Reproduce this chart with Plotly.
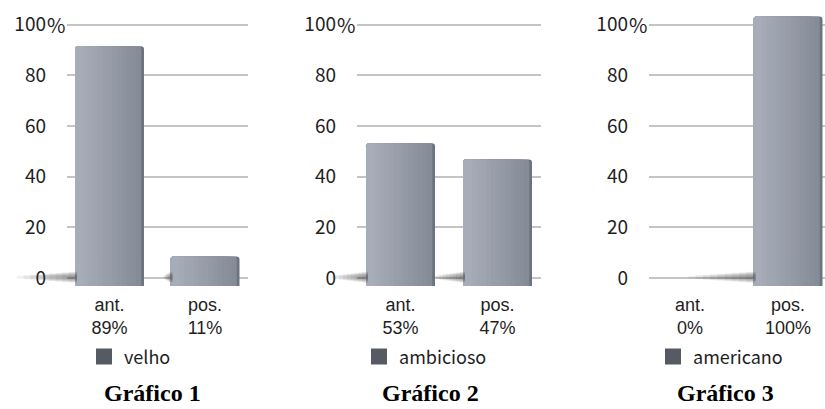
import plotly.graph_objects as go

# --- data ---------------------------------------------------------------
categorias = ["ant.", "pos."]
series = ["velho", "ambicioso", "americano"]
valores = [[89, 11], [53, 47], [0, 100]]
titulos = ["Gráfico 1", "Gráfico 2", "Gráfico 3"]
y_ticks = [0, 20, 40, 60, 80, 100]

# --- geometry (pixels in an 825 x 409 canvas) ---------------------------
W, H = 825, 409


def fx(p):
    return p / W


def fy(p):
    return 1 - p / H


# plot-area left/right edge, first category centre and category spacing
paineis = [
    dict(left=67, right=248, c0=109.5, step=95.5, leg_x=84, tit_x=152),
    dict(left=357, right=541, c0=400.5, step=97.0, leg_x=359, tit_x=430),
    dict(left=649, right=825, c0=690.0, step=98.0, leg_x=653, tit_x=725),
]
BAR_PX = 69
Y_TOP_PX, Y_BOT_PX = 10, 288
# gridline axis: 0 at y=280, 100 at y=22
g_scale = (280 - 22) / 100
g_range = [-(Y_BOT_PX - 280) / g_scale, 100 + (22 - Y_TOP_PX) / g_scale]
# bar axis (bars rise from a slightly lower base)
b_scale = (288 - 44) / 89
b_range = [0, (Y_BOT_PX - Y_TOP_PX) / b_scale]

tick_font = dict(family="Noto Sans CJK JP, Liberation Sans, sans-serif", size=19, color="#1e1e1e")
cat_font = dict(family="Liberation Sans, Arial, sans-serif", size=18, color="#1e1e1e")
leg_font = dict(family="Noto Sans CJK JP, Liberation Sans, sans-serif", size=18, color="#1e1e1e")
tit_font = dict(family="Liberation Serif, Times New Roman, serif", size=24, color="#000000")


def mix(c1, c2, t):
    a = [int(c1[k:k + 2], 16) for k in (1, 3, 5)]
    b = [int(c2[k:k + 2], 16) for k in (1, 3, 5)]
    return "#" + "".join(f"{round(x + (y - x) * t):02x}" for x, y in zip(a, b))


# shading layers for the bars: dark right edge underneath, lighter strips on top
N_CAMADAS = 14
camadas = [(1.0, "#6e747f")]
for k in range(1, N_CAMADAS):
    frac = 0.96 - 0.9 * (k - 1) / (N_CAMADAS - 1)
    camadas.append((frac, mix("#858b97", "#a6acb8", (k - 1) / (N_CAMADAS - 2))))

fig = go.Figure()
layout = dict(
    width=W,
    height=H,
    margin=dict(l=0, r=0, t=0, b=0),
    paper_bgcolor="white",
    plot_bgcolor="white",
    barmode="overlay",
    showlegend=True,
    annotations=[],
    shapes=[],
)

for i, (p, nome, vals, tit) in enumerate(zip(paineis, series, valores, titulos), start=1):
    xa = "x" if i == 1 else f"x{i}"
    yg = "y" if i == 1 else f"y{i}"
    yb = f"y{i + 3}"
    leg = "legend" if i == 1 else f"legend{i}"
    bw = BAR_PX / p["step"]

    xs = list(range(len(categorias)))

    # soft floor shadow cast to the left of each bar (may spill past the plot area)
    for xc, v in zip(xs, vals):
        if v <= 0:
            continue
        borda = p["c0"] + (xc - bw / 2) * p["step"]  # bar left edge, px
        comp = 0.65 * v  # shadow length, px
        n = 9
        for s in range(n):
            t = (s + 1) / n
            meia = 1.5 + 4.5 * (1 - t)
            layout["shapes"].append(
                dict(
                    type="rect",
                    xref="paper",
                    yref="paper",
                    x0=fx(borda - comp * t),
                    x1=fx(borda + 2),
                    y0=fy(279 + meia),
                    y1=fy(279 - meia),
                    fillcolor="rgba(60,60,60,0.07)",
                    line=dict(width=0),
                    layer="above",
                )
            )

    for frac, cor in camadas:
        fig.add_trace(
            go.Bar(
                x=xs,
                y=vals,
                width=bw * frac,
                offset=-bw / 2,
                marker=dict(color=cor, line=dict(width=0), cornerradius=3),
                xaxis=xa,
                yaxis=yb,
                showlegend=False,
                hoverinfo="skip",
            )
        )

    # legend entry
    fig.add_trace(
        go.Scatter(
            x=[None],
            y=[None],
            mode="markers",
            marker=dict(symbol="square", size=16, color="#555a63"),
            name=nome,
            xaxis=xa,
            yaxis=yg,
            legend=leg,
        )
    )

    x_rng = [(p["left"] - p["c0"]) / p["step"], (p["right"] - p["c0"]) / p["step"]]
    layout[f"xaxis{'' if i == 1 else i}"] = dict(
        domain=[fx(p["left"]), fx(p["right"])],
        range=x_rng,
        tickvals=xs,
        ticktext=[f"{c}<br>{v}%" for c, v in zip(categorias, vals)],
        tickfont=cat_font,
        showgrid=False,
        zeroline=False,
        showline=False,
        ticks="",
        ticklabelstandoff=6,
        anchor=yg,
        fixedrange=True,
    )
    layout[f"yaxis{'' if i == 1 else i}"] = dict(
        domain=[fy(Y_BOT_PX), fy(Y_TOP_PX)],
        range=g_range,
        tickvals=y_ticks,
        ticktext=[str(t) for t in y_ticks],
        tickfont=tick_font,
        showgrid=True,
        gridcolor="#c4c4c4",
        gridwidth=2,
        zeroline=False,
        showline=False,
        ticks="",
        ticklabelstandoff=20,
        anchor=xa,
        fixedrange=True,
    )
    layout[f"yaxis{i + 3}"] = dict(
        overlaying=yg,
        range=b_range,
        visible=False,
        showgrid=False,
        zeroline=False,
        anchor=xa,
        fixedrange=True,
    )
    layout[leg] = dict(
        x=fx(p["leg_x"]),
        y=fy(360),
        xanchor="left",
        yanchor="middle",
        font=leg_font,
        bgcolor="rgba(0,0,0,0)",
        borderwidth=0,
        itemwidth=30,
        itemsizing="trace",
    )
    layout["annotations"].append(
        dict(
            text="%",
            xref=f"{xa} domain",
            x=0,
            xanchor="right",
            yref=yg,
            y=100,
            yanchor="middle",
            showarrow=False,
            font=dict(tick_font, size=20),
        )
    )
    layout["annotations"].append(
        dict(
            text=f"<b>{tit}</b>",
            xref="paper",
            x=fx(p["tit_x"]),
            xanchor="center",
            yref="paper",
            y=fy(397),
            yanchor="middle",
            showarrow=False,
            font=tit_font,
        )
    )

fig.update_layout(**layout)
fig.write_html("out.html")
